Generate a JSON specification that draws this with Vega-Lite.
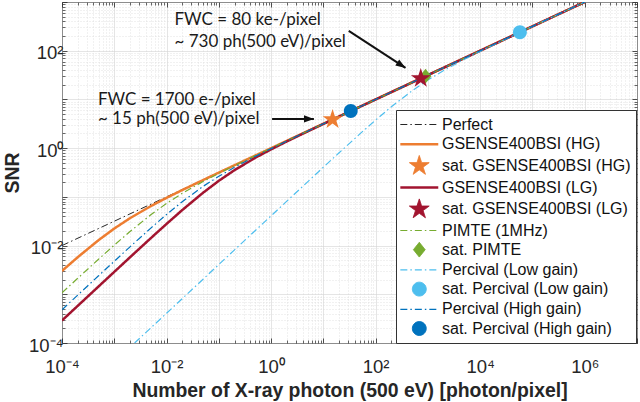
{
  "$schema": "https://vega.github.io/schema/vega-lite/v6.json",
  "width": 575,
  "height": 341,
  "autosize": {"type": "none"},
  "padding": {"left": 62, "top": 2, "right": 3, "bottom": 59},
  "background": "white",
  "datasets": {
    "curves": [
      {"series": "Perfect", "N": 0.0001, "SNR": 0.01},
      {"series": "Perfect", "N": 1, "SNR": 1},
      {"series": "Perfect", "N": 1000000, "SNR": 1000},
      {"series": "GSENSE400BSI (HG)", "N": 0.0001, "SNR": 0.003015},
      {"series": "GSENSE400BSI (HG)", "N": 0.0002, "SNR": 0.005774},
      {"series": "GSENSE400BSI (HG)", "N": 0.0005, "SNR": 0.01291},
      {"series": "GSENSE400BSI (HG)", "N": 0.001, "SNR": 0.02236},
      {"series": "GSENSE400BSI (HG)", "N": 0.002, "SNR": 0.03651},
      {"series": "GSENSE400BSI (HG)", "N": 0.005, "SNR": 0.06455},
      {"series": "GSENSE400BSI (HG)", "N": 0.01, "SNR": 0.09535},
      {"series": "GSENSE400BSI (HG)", "N": 0.02, "SNR": 0.138},
      {"series": "GSENSE400BSI (HG)", "N": 0.05, "SNR": 0.2214},
      {"series": "GSENSE400BSI (HG)", "N": 0.1, "SNR": 0.3147},
      {"series": "GSENSE400BSI (HG)", "N": 0.2, "SNR": 0.4461},
      {"series": "GSENSE400BSI (HG)", "N": 0.5, "SNR": 0.7064},
      {"series": "GSENSE400BSI (HG)", "N": 1, "SNR": 0.9995},
      {"series": "GSENSE400BSI (HG)", "N": 2, "SNR": 1.414},
      {"series": "GSENSE400BSI (HG)", "N": 5, "SNR": 2.236},
      {"series": "GSENSE400BSI (HG)", "N": 10, "SNR": 3.162},
      {"series": "GSENSE400BSI (HG)", "N": 100, "SNR": 10},
      {"series": "GSENSE400BSI (HG)", "N": 1000, "SNR": 31.62},
      {"series": "GSENSE400BSI (HG)", "N": 10000, "SNR": 100},
      {"series": "GSENSE400BSI (HG)", "N": 100000, "SNR": 316.2},
      {"series": "GSENSE400BSI (HG)", "N": 1000000, "SNR": 1000},
      {"series": "GSENSE400BSI (LG)", "N": 0.0001, "SNR": 0.0002898},
      {"series": "GSENSE400BSI (LG)", "N": 0.0002, "SNR": 0.0005793},
      {"series": "GSENSE400BSI (LG)", "N": 0.0005, "SNR": 0.001446},
      {"series": "GSENSE400BSI (LG)", "N": 0.001, "SNR": 0.002887},
      {"series": "GSENSE400BSI (LG)", "N": 0.002, "SNR": 0.00575},
      {"series": "GSENSE400BSI (LG)", "N": 0.005, "SNR": 0.0142},
      {"series": "GSENSE400BSI (LG)", "N": 0.01, "SNR": 0.02784},
      {"series": "GSENSE400BSI (LG)", "N": 0.02, "SNR": 0.05364},
      {"series": "GSENSE400BSI (LG)", "N": 0.05, "SNR": 0.1216},
      {"series": "GSENSE400BSI (LG)", "N": 0.1, "SNR": 0.2137},
      {"series": "GSENSE400BSI (LG)", "N": 0.2, "SNR": 0.3541},
      {"series": "GSENSE400BSI (LG)", "N": 0.5, "SNR": 0.6355},
      {"series": "GSENSE400BSI (LG)", "N": 1, "SNR": 0.9453},
      {"series": "GSENSE400BSI (LG)", "N": 2, "SNR": 1.374},
      {"series": "GSENSE400BSI (LG)", "N": 5, "SNR": 2.21},
      {"series": "GSENSE400BSI (LG)", "N": 10, "SNR": 3.144},
      {"series": "GSENSE400BSI (LG)", "N": 100, "SNR": 9.994},
      {"series": "GSENSE400BSI (LG)", "N": 1000, "SNR": 31.62},
      {"series": "GSENSE400BSI (LG)", "N": 10000, "SNR": 100},
      {"series": "GSENSE400BSI (LG)", "N": 100000, "SNR": 316.2},
      {"series": "GSENSE400BSI (LG)", "N": 1000000, "SNR": 1000},
      {"series": "PIMTE (1MHz)", "N": 0.0001, "SNR": 0.001072},
      {"series": "PIMTE (1MHz)", "N": 0.0002, "SNR": 0.002132},
      {"series": "PIMTE (1MHz)", "N": 0.0005, "SNR": 0.005241},
      {"series": "PIMTE (1MHz)", "N": 0.001, "SNR": 0.01021},
      {"series": "PIMTE (1MHz)", "N": 0.002, "SNR": 0.01943},
      {"series": "PIMTE (1MHz)", "N": 0.005, "SNR": 0.04288},
      {"series": "PIMTE (1MHz)", "N": 0.01, "SNR": 0.07332},
      {"series": "PIMTE (1MHz)", "N": 0.02, "SNR": 0.1183},
      {"series": "PIMTE (1MHz)", "N": 0.05, "SNR": 0.2066},
      {"series": "PIMTE (1MHz)", "N": 0.1, "SNR": 0.3035},
      {"series": "PIMTE (1MHz)", "N": 0.2, "SNR": 0.4379},
      {"series": "PIMTE (1MHz)", "N": 0.5, "SNR": 0.7011},
      {"series": "PIMTE (1MHz)", "N": 1, "SNR": 0.9957},
      {"series": "PIMTE (1MHz)", "N": 2, "SNR": 1.411},
      {"series": "PIMTE (1MHz)", "N": 5, "SNR": 2.234},
      {"series": "PIMTE (1MHz)", "N": 10, "SNR": 3.161},
      {"series": "PIMTE (1MHz)", "N": 100, "SNR": 10},
      {"series": "PIMTE (1MHz)", "N": 1000, "SNR": 31.62},
      {"series": "PIMTE (1MHz)", "N": 10000, "SNR": 100},
      {"series": "PIMTE (1MHz)", "N": 100000, "SNR": 316.2},
      {"series": "PIMTE (1MHz)", "N": 1000000, "SNR": 1000},
      {"series": "Percival (Low gain)", "N": 0.002449, "SNR": 0.0001},
      {"series": "Percival (Low gain)", "N": 0.005, "SNR": 0.0002041},
      {"series": "Percival (Low gain)", "N": 0.01, "SNR": 0.0004082},
      {"series": "Percival (Low gain)", "N": 0.02, "SNR": 0.0008165},
      {"series": "Percival (Low gain)", "N": 0.05, "SNR": 0.002041},
      {"series": "Percival (Low gain)", "N": 0.1, "SNR": 0.004082},
      {"series": "Percival (Low gain)", "N": 0.2, "SNR": 0.008164},
      {"series": "Percival (Low gain)", "N": 0.5, "SNR": 0.0204},
      {"series": "Percival (Low gain)", "N": 1, "SNR": 0.04079},
      {"series": "Percival (Low gain)", "N": 2, "SNR": 0.08151},
      {"series": "Percival (Low gain)", "N": 5, "SNR": 0.2033},
      {"series": "Percival (Low gain)", "N": 10, "SNR": 0.4049},
      {"series": "Percival (Low gain)", "N": 20, "SNR": 0.8032},
      {"series": "Percival (Low gain)", "N": 50, "SNR": 1.961},
      {"series": "Percival (Low gain)", "N": 100, "SNR": 3.78},
      {"series": "Percival (Low gain)", "N": 200, "SNR": 7.071},
      {"series": "Percival (Low gain)", "N": 500, "SNR": 15.08},
      {"series": "Percival (Low gain)", "N": 1000, "SNR": 25},
      {"series": "Percival (Low gain)", "N": 2000, "SNR": 39.22},
      {"series": "Percival (Low gain)", "N": 5000, "SNR": 66.82},
      {"series": "Percival (Low gain)", "N": 10000, "SNR": 97.09},
      {"series": "Percival (Low gain)", "N": 100000, "SNR": 315.3},
      {"series": "Percival (Low gain)", "N": 1000000, "SNR": 999.7},
      {"series": "Percival (High gain)", "N": 0.0001, "SNR": 0.0004817},
      {"series": "Percival (High gain)", "N": 0.0002, "SNR": 0.0009622},
      {"series": "Percival (High gain)", "N": 0.0005, "SNR": 0.002397},
      {"series": "Percival (High gain)", "N": 0.001, "SNR": 0.004767},
      {"series": "Percival (High gain)", "N": 0.002, "SNR": 0.009428},
      {"series": "Percival (High gain)", "N": 0.005, "SNR": 0.02282},
      {"series": "Percival (High gain)", "N": 0.01, "SNR": 0.04344},
      {"series": "Percival (High gain)", "N": 0.02, "SNR": 0.07968},
      {"series": "Percival (High gain)", "N": 0.05, "SNR": 0.164},
      {"series": "Percival (High gain)", "N": 0.1, "SNR": 0.2644},
      {"series": "Percival (High gain)", "N": 0.2, "SNR": 0.4057},
      {"series": "Percival (High gain)", "N": 0.5, "SNR": 0.6785},
      {"series": "Percival (High gain)", "N": 1, "SNR": 0.9792},
      {"series": "Percival (High gain)", "N": 2, "SNR": 1.399},
      {"series": "Percival (High gain)", "N": 5, "SNR": 2.227},
      {"series": "Percival (High gain)", "N": 10, "SNR": 3.156},
      {"series": "Percival (High gain)", "N": 100, "SNR": 9.998},
      {"series": "Percival (High gain)", "N": 1000, "SNR": 31.62},
      {"series": "Percival (High gain)", "N": 10000, "SNR": 100},
      {"series": "Percival (High gain)", "N": 100000, "SNR": 316.2},
      {"series": "Percival (High gain)", "N": 1000000, "SNR": 1000}
    ],
    "markers": [
      {"series": "sat. GSENSE400BSI (HG)", "N": 15, "SNR": 3.873},
      {"series": "sat. Percival (High gain)", "N": 33.4, "SNR": 5.78},
      {"series": "sat. PIMTE", "N": 900, "SNR": 30},
      {"series": "sat. GSENSE400BSI (LG)", "N": 730, "SNR": 27.02},
      {"series": "sat. Percival (Low gain)", "N": 57500, "SNR": 239}
    ],
    "arrows": [
      {"id": "a1", "xs": 1.045, "ys": 3.98, "xe": 6.59, "ye": 3.98},
      {"id": "a2", "xs": 30.6, "ys": 255, "xe": 373, "ye": 44.4}
    ],
    "notes": [
      {"text": "FWC = 80 ke-/pixel", "N": 0.0142, "SNR": 429},
      {"text": "~ 730 ph(500 eV)/pixel", "N": 0.0142, "SNR": 152},
      {"text": "FWC = 1700 e-/pixel", "N": 0.000486, "SNR": 9.77},
      {"text": "~ 15 ph(500 eV)/pixel", "N": 0.000486, "SNR": 3.92}
    ]
  },
  "resolve": {"axis": {"x": "independent", "y": "independent"}},
  "layer": [
    {
      "data": {"name": "curves"},
      "mark": {"type": "line", "clip": true},
      "encoding": {
        "x": {"field": "N", "type": "quantitative",
          "scale": {"type": "log", "domain": [0.0001, 10000000], "nice": false},
          "axis": {"orient": "bottom", "values": [0.0001,0.001,0.01,0.1,1,10,100,1000,10000,100000,1000000,10000000],
            "labelExpr": "datum.value==0.0001?'10⁻⁴':datum.value==0.01?'10⁻²':datum.value==1?'10⁰':datum.value==100?'10²':datum.value==10000?'10⁴':datum.value==1000000?'10⁶':''",
            "grid": true, "gridColor": "#d4d4d4", "gridWidth": 0.6,
            "ticks": true, "tickSize": -5, "tickColor": "#262626", "tickWidth": 0.8,
            "domain": false, "labelFont": "Liberation Sans", "labelFontSize": 18.5, "labelColor": "#262626",
            "labelPadding": 19, "labelFlush": false, "labelOverlap": false, "labelBaseline": "top",
            "title": "Number of X-ray photon (500 eV) [photon/pixel]", "titleFont": "Liberation Sans",
            "titleFontSize": 19.4, "titleFontWeight": "bold", "titleColor": "#262626", "titlePadding": 6}},
        "y": {"field": "SNR", "type": "quantitative",
          "scale": {"type": "log", "domain": [0.0001, 1000], "nice": false},
          "axis": {"orient": "left", "values": [0.0001,0.001,0.01,0.1,1,10,100,1000],
            "labelExpr": "datum.value==0.0001?'10⁻⁴':datum.value==0.01?'10⁻²':datum.value==1?'10⁰':datum.value==100?'10²':''",
            "grid": true, "gridColor": "#d4d4d4", "gridWidth": 0.6,
            "ticks": true, "tickSize": -5, "tickColor": "#262626", "tickWidth": 0.8,
            "domain": false, "labelFont": "Liberation Sans", "labelFontSize": 18.5, "labelColor": "#262626",
            "labelPadding": 4, "labelBaseline": "middle", "labelOffset": 2, "labelOverlap": false,
            "title": "SNR", "titleFont": "Liberation Sans", "titleFontSize": 19.4, "titleFontWeight": "bold",
            "titleColor": "#262626", "titlePadding": 6}},
        "color": {"field": "series", "type": "nominal", "title": null,
          "scale": {"domain": ["Perfect","GSENSE400BSI (HG)","sat. GSENSE400BSI (HG)","GSENSE400BSI (LG)","sat. GSENSE400BSI (LG)","PIMTE (1MHz)","sat. PIMTE","Percival (Low gain)","sat. Percival (Low gain)","Percival (High gain)","sat. Percival (High gain)"],
            "range": ["#262626","#ED7D31","#ED7D31","#A2142F","#A2142F","#77AC30","#77AC30","#4DBEEE","#4DBEEE","#0072BD","#0072BD"]}},
        "strokeDash": {"field": "series", "type": "nominal", "title": null,
          "scale": {"domain": ["Perfect","GSENSE400BSI (HG)","sat. GSENSE400BSI (HG)","GSENSE400BSI (LG)","sat. GSENSE400BSI (LG)","PIMTE (1MHz)","sat. PIMTE","Percival (Low gain)","sat. Percival (Low gain)","Percival (High gain)","sat. Percival (High gain)"],
            "range": [[7,3,1.5,3],[1,0],[1,0],[1,0],[1,0],[7,3,1.5,3],[1,0],[7,3,1.5,3],[1,0],[7,3,1.5,3],[1,0]]}},
        "strokeWidth": {"field": "series", "type": "nominal", "title": null,
          "scale": {"type": "ordinal", "domain": ["Perfect","GSENSE400BSI (HG)","sat. GSENSE400BSI (HG)","GSENSE400BSI (LG)","sat. GSENSE400BSI (LG)","PIMTE (1MHz)","sat. PIMTE","Percival (Low gain)","sat. Percival (Low gain)","Percival (High gain)","sat. Percival (High gain)"],
            "range": [1,2.5,1,2.5,1,1.2,1,1.2,1,1.2,1]}}
      }
    },
    {
      "data": {"name": "markers"},
      "mark": {"type": "point", "filled": true, "size": 300, "opacity": 1},
      "encoding": {
        "x": {"field": "N", "type": "quantitative",
          "scale": {"type": "log", "domain": [0.0001, 10000000], "nice": false},
          "axis": {"orient": "bottom", "values": [0.0002,0.0003,0.0004,0.0005,0.0006,0.0007,0.0008,0.0009,0.002,0.003,0.004,0.005,0.006,0.007,0.008,0.009,0.02,0.03,0.04,0.05,0.06,0.07,0.08,0.09,0.2,0.3,0.4,0.5,0.6,0.7,0.8,0.9,2,3,4,5,6,7,8,9,20,30,40,50,60,70,80,90,200,300,400,500,600,700,800,900,2000,3000,4000,5000,6000,7000,8000,9000,20000,30000,40000,50000,60000,70000,80000,90000,200000,300000,400000,500000,600000,700000,800000,900000,2000000,3000000,4000000,5000000,6000000,7000000,8000000,9000000],
            "grid": true, "gridColor": "#d8d8d8", "gridDash": [1, 2], "gridWidth": 0.7,
            "ticks": true, "tickSize": -3, "tickColor": "#262626", "tickWidth": 0.7,
            "labels": false, "domain": false, "title": null}},
        "y": {"field": "SNR", "type": "quantitative",
          "scale": {"type": "log", "domain": [0.0001, 1000], "nice": false},
          "axis": {"orient": "left", "values": [0.0002,0.0003,0.0004,0.0005,0.0006,0.0007,0.0008,0.0009,0.002,0.003,0.004,0.005,0.006,0.007,0.008,0.009,0.02,0.03,0.04,0.05,0.06,0.07,0.08,0.09,0.2,0.3,0.4,0.5,0.6,0.7,0.8,0.9,2,3,4,5,6,7,8,9,20,30,40,50,60,70,80,90,200,300,400,500,600,700,800,900],
            "grid": true, "gridColor": "#d8d8d8", "gridDash": [1, 2], "gridWidth": 0.7,
            "ticks": true, "tickSize": -3, "tickColor": "#262626", "tickWidth": 0.7,
            "labels": false, "domain": false, "title": null}},
        "color": {"field": "series", "type": "nominal", "title": null,
          "scale": {"domain": ["Perfect","GSENSE400BSI (HG)","sat. GSENSE400BSI (HG)","GSENSE400BSI (LG)","sat. GSENSE400BSI (LG)","PIMTE (1MHz)","sat. PIMTE","Percival (Low gain)","sat. Percival (Low gain)","Percival (High gain)","sat. Percival (High gain)"],
            "range": ["#262626","#ED7D31","#ED7D31","#A2142F","#A2142F","#77AC30","#77AC30","#4DBEEE","#4DBEEE","#0072BD","#0072BD"]}},
        "shape": {"field": "series", "type": "nominal", "title": null,
          "scale": {"domain": ["Perfect","GSENSE400BSI (HG)","sat. GSENSE400BSI (HG)","GSENSE400BSI (LG)","sat. GSENSE400BSI (LG)","PIMTE (1MHz)","sat. PIMTE","Percival (Low gain)","sat. Percival (Low gain)","Percival (High gain)","sat. Percival (High gain)"],
            "range": ["M-2.19,0L2.19,0","M-2.19,0L2.19,0","M0,-1.2L0.2694,-0.3709L1.141,-0.371L0.436,0.1417L0.705,0.971L0,0.4584L-0.705,0.971L-0.436,0.1417L-1.141,-0.371L-0.2694,-0.3709Z","M-2.19,0L2.19,0","M0,-1.2L0.2694,-0.3709L1.141,-0.371L0.436,0.1417L0.705,0.971L0,0.4584L-0.705,0.971L-0.436,0.1417L-1.141,-0.371L-0.2694,-0.3709Z","M-2.19,0L2.19,0","M0,-0.85L0.68,0L0,0.85L-0.68,0Z","M-2.19,0L2.19,0","M0.8,0A0.8,0.8,0,1,1,-0.8,0A0.8,0.8,0,1,1,0.8,0Z","M-2.19,0L2.19,0","M0.8,0A0.8,0.8,0,1,1,-0.8,0A0.8,0.8,0,1,1,0.8,0Z"]}}
      }
    },
    {
      "data": {"name": "arrows"},
      "mark": {"type": "rule", "color": "#111111", "strokeWidth": 2},
      "encoding": {
        "x": {"field": "xs", "type": "quantitative",
          "scale": {"type": "log", "domain": [0.0001, 10000000], "nice": false},
          "axis": {"orient": "top", "values": [0.0001,0.001,0.01,0.1,1,10,100,1000,10000,100000,1000000,10000000],
            "grid": false, "ticks": true, "tickSize": -5, "tickColor": "#262626", "tickWidth": 0.8,
            "labels": false, "domain": false, "title": null}},
        "y": {"field": "ys", "type": "quantitative",
          "scale": {"type": "log", "domain": [0.0001, 1000], "nice": false},
          "axis": {"orient": "right", "values": [0.0001,0.001,0.01,0.1,1,10,100,1000],
            "grid": false, "ticks": true, "tickSize": -5, "tickColor": "#262626", "tickWidth": 0.8,
            "labels": false, "domain": false, "title": null}},
        "x2": {"field": "xe"},
        "y2": {"field": "ye"}
      }
    },
    {
      "data": {"name": "arrows"},
      "transform": [{"filter": "datum.id == 'a1'"}],
      "mark": {"type": "point", "filled": true, "opacity": 1, "color": "#111111", "size": 121, "angle": 0, "shape": "M0,0L-1.8,-0.65L-1.8,0.65Z"},
      "encoding": {
        "x": {"field": "xe", "type": "quantitative",
          "scale": {"type": "log", "domain": [0.0001, 10000000], "nice": false},
          "axis": {"orient": "top", "values": [0.0002,0.0003,0.0004,0.0005,0.0006,0.0007,0.0008,0.0009,0.002,0.003,0.004,0.005,0.006,0.007,0.008,0.009,0.02,0.03,0.04,0.05,0.06,0.07,0.08,0.09,0.2,0.3,0.4,0.5,0.6,0.7,0.8,0.9,2,3,4,5,6,7,8,9,20,30,40,50,60,70,80,90,200,300,400,500,600,700,800,900,2000,3000,4000,5000,6000,7000,8000,9000,20000,30000,40000,50000,60000,70000,80000,90000,200000,300000,400000,500000,600000,700000,800000,900000,2000000,3000000,4000000,5000000,6000000,7000000,8000000,9000000],
            "grid": false, "ticks": true, "tickSize": -3, "tickColor": "#262626", "tickWidth": 0.7,
            "labels": false, "domain": false, "title": null}},
        "y": {"field": "ye", "type": "quantitative",
          "scale": {"type": "log", "domain": [0.0001, 1000], "nice": false},
          "axis": {"orient": "right", "values": [0.0002,0.0003,0.0004,0.0005,0.0006,0.0007,0.0008,0.0009,0.002,0.003,0.004,0.005,0.006,0.007,0.008,0.009,0.02,0.03,0.04,0.05,0.06,0.07,0.08,0.09,0.2,0.3,0.4,0.5,0.6,0.7,0.8,0.9,2,3,4,5,6,7,8,9,20,30,40,50,60,70,80,90,200,300,400,500,600,700,800,900],
            "grid": false, "ticks": true, "tickSize": -3, "tickColor": "#262626", "tickWidth": 0.7,
            "labels": false, "domain": false, "title": null}}
      }
    },
    {
      "data": {"name": "arrows"},
      "transform": [{"filter": "datum.id == 'a2'"}],
      "mark": {"type": "point", "filled": true, "opacity": 1, "color": "#111111", "size": 121, "angle": 33.4, "shape": "M0,0L-1.8,-0.65L-1.8,0.65Z"},
      "encoding": {
        "x": {"field": "xe", "type": "quantitative", "scale": {"type": "log", "domain": [0.0001, 10000000], "nice": false}, "axis": null},
        "y": {"field": "ye", "type": "quantitative", "scale": {"type": "log", "domain": [0.0001, 1000], "nice": false}, "axis": null}
      }
    },
    {
      "data": {"name": "notes"},
      "mark": {"type": "text", "align": "left", "baseline": "middle", "font": "Lato", "fontSize": 17, "color": "#1a1a1a"},
      "encoding": {
        "x": {"field": "N", "type": "quantitative", "scale": {"type": "log", "domain": [0.0001, 10000000], "nice": false}, "axis": null},
        "y": {"field": "SNR", "type": "quantitative", "scale": {"type": "log", "domain": [0.0001, 1000], "nice": false}, "axis": null},
        "text": {"field": "text", "type": "nominal"}
      }
    }
  ],
  "config": {
    "view": {"stroke": "#262626", "strokeWidth": 1},
    "font": "Liberation Sans",
    "legend": {
      "orient": "none", "legendX": 334, "legendY": 108,
      "padding": 5, "fillColor": "white", "strokeColor": "#333333",
      "labelFont": "Liberation Sans", "labelFontSize": 16, "labelColor": "#111111", "labelLimit": 400,
      "symbolSize": 300, "symbolOffset": 8.3, "labelOffset": 12.7, "rowPadding": 1.2, "symbolLimit": 0
    }
  }
}
